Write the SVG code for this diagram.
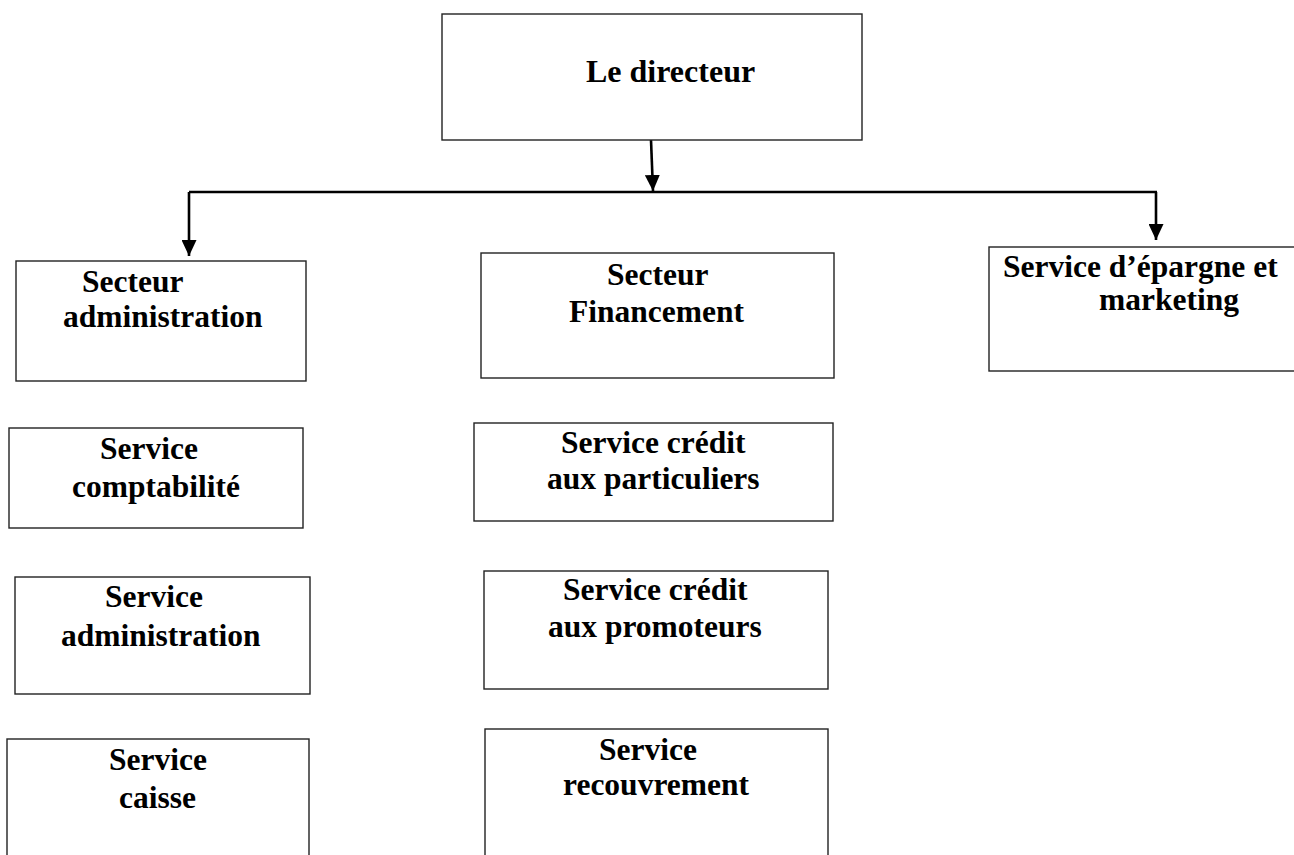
<svg xmlns="http://www.w3.org/2000/svg" width="1294" height="855" viewBox="0 0 1294 855">
<defs>
<style>
.box{fill:#fff;stroke:#222;stroke-width:1.4}
.t{font-family:"Liberation Serif","Times New Roman",serif;font-weight:bold;font-size:31.5px;fill:#000}
.title{font-size:32px}
.c{stroke:#000;stroke-width:2.6;fill:none}
</style>
<marker id="ah" viewBox="0 0 16 15" refX="16" refY="7.5" markerWidth="16" markerHeight="15" markerUnits="userSpaceOnUse" orient="auto">
<path d="M0,0 L16,7.5 L0,15 Z" fill="#000"/>
</marker>
</defs>
<rect width="1294" height="855" fill="#fff"/>
<g id="connectors">
<line class="c" x1="189" y1="192" x2="1157" y2="192"/>
<line class="c" x1="651" y1="140" x2="653" y2="191" stroke-width="2" marker-end="url(#ah)"/>
<line class="c" x1="189" y1="192" x2="189" y2="256" marker-end="url(#ah)"/>
<line class="c" x1="1156" y1="192" x2="1156" y2="240" stroke-width="2" marker-end="url(#ah)"/>
</g>
<g id="directeur">
<rect class="box" x="442" y="14" width="420" height="126"/>
<text class="t title" x="586" y="82">Le directeur</text>
</g>
<g id="secteur-administration">
<rect class="box" x="16" y="261" width="290" height="120"/>
<text class="t" x="82" y="292">Secteur</text>
<text class="t" x="63" y="327">administration</text>
</g>
<g id="secteur-financement">
<rect class="box" x="481" y="253" width="353" height="125"/>
<text class="t" x="607" y="285">Secteur</text>
<text class="t" x="569" y="322">Financement</text>
</g>
<g id="service-epargne">
<rect class="box" x="989" y="247" width="320" height="124"/>
<text class="t" x="1003" y="277">Service d’épargne et</text>
<text class="t" x="1099" y="310">marketing</text>
</g>
<g id="service-comptabilite">
<rect class="box" x="9" y="428" width="294" height="100"/>
<text class="t" x="100" y="459">Service</text>
<text class="t" x="72" y="497">comptabilité</text>
</g>
<g id="service-administration">
<rect class="box" x="15" y="577" width="295" height="117"/>
<text class="t" x="105" y="607">Service</text>
<text class="t" x="61" y="646">administration</text>
</g>
<g id="service-caisse">
<rect class="box" x="7" y="739" width="302" height="140"/>
<text class="t" x="109" y="770">Service</text>
<text class="t" x="119" y="808">caisse</text>
</g>
<g id="service-credit-particuliers">
<rect class="box" x="474" y="423" width="359" height="98"/>
<text class="t" x="561" y="453">Service crédit</text>
<text class="t" x="547" y="489">aux particuliers</text>
</g>
<g id="service-credit-promoteurs">
<rect class="box" x="484" y="571" width="344" height="118"/>
<text class="t" x="563" y="600">Service crédit</text>
<text class="t" x="548" y="637">aux promoteurs</text>
</g>
<g id="service-recouvrement">
<rect class="box" x="485" y="729" width="343" height="150"/>
<text class="t" x="599" y="760">Service</text>
<text class="t" x="563" y="795">recouvrement</text>
</g>
</svg>
